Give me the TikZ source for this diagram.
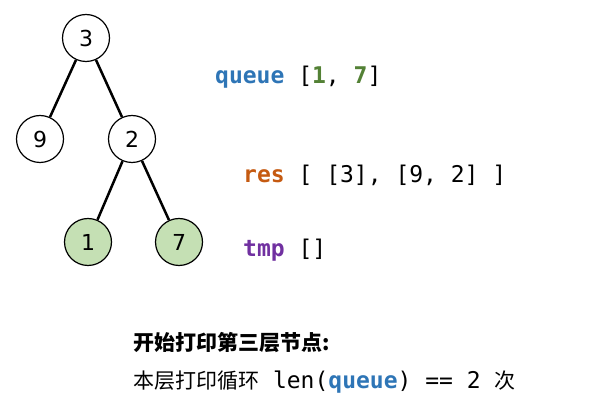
\documentclass[tikz,border=0pt]{standalone}
\usepackage{fontspec}
\setmonofont{DejaVu Sans Mono}
\setmainfont{DejaVu Sans}
\newfontfamily\cjk{Noto Sans CJK SC}
\definecolor{qblue}{HTML}{2E75B6}
\definecolor{rorange}{HTML}{C55A11}
\definecolor{tpurple}{HTML}{7030A0}
\definecolor{ngreen}{HTML}{538135}
\definecolor{lgreen}{HTML}{C5E0B4}
\begin{document}
\begin{tikzpicture}[x=1pt,y=-1pt,
  tn/.style={circle,draw=black,line width=1.2pt,fill=white,minimum size=47pt,inner sep=0pt,font=\fontsize{22}{24}\selectfont},
  gn/.style={tn,fill=lgreen},
  ed/.style={line width=2.5pt},
  code/.style={anchor=west,inner sep=0pt,font=\ttfamily\fontsize{23}{26}\selectfont},
  cn/.style={anchor=west,inner sep=0pt,font=\cjk\fontsize{21}{24}\selectfont}]
\useasboundingbox (0,0) rectangle (606,409);
\node[tn] (n3) at (86,38) {3};
\node[tn] (n9) at (40,139) {9};
\node[tn] (n2) at (132,139) {2};
\node[gn] (n1) at (88,242) {1};
\node[gn] (n7) at (179,242) {7};
\draw[ed] (n3) -- (n9);
\draw[ed] (n3) -- (n2);
\draw[ed] (n2) -- (n1);
\draw[ed] (n2) -- (n7);
\node[code] (q) at (215,77) {\textcolor{qblue}{\bfseries queue} [\textcolor{ngreen}{\bfseries 1}, \textcolor{ngreen}{\bfseries 7}]};
\node[code] (r) at (243,175) {\textcolor{rorange}{\bfseries res} [ [3], [9, 2] ]};
\node[code] (t) at (243,250) {\textcolor{tpurple}{\bfseries tmp} []};
\node[cn,font=\cjk\bfseries\fontsize{21}{24}\selectfont] (c1) at (133,343) {开始打印第三层节点:};
\node[cn] (c2) at (133,382) {本层打印循环\texttt{\fontsize{23}{26}\selectfont{} len(\textcolor{qblue}{\bfseries queue}) == 2 }次};
\end{tikzpicture}
\end{document}
